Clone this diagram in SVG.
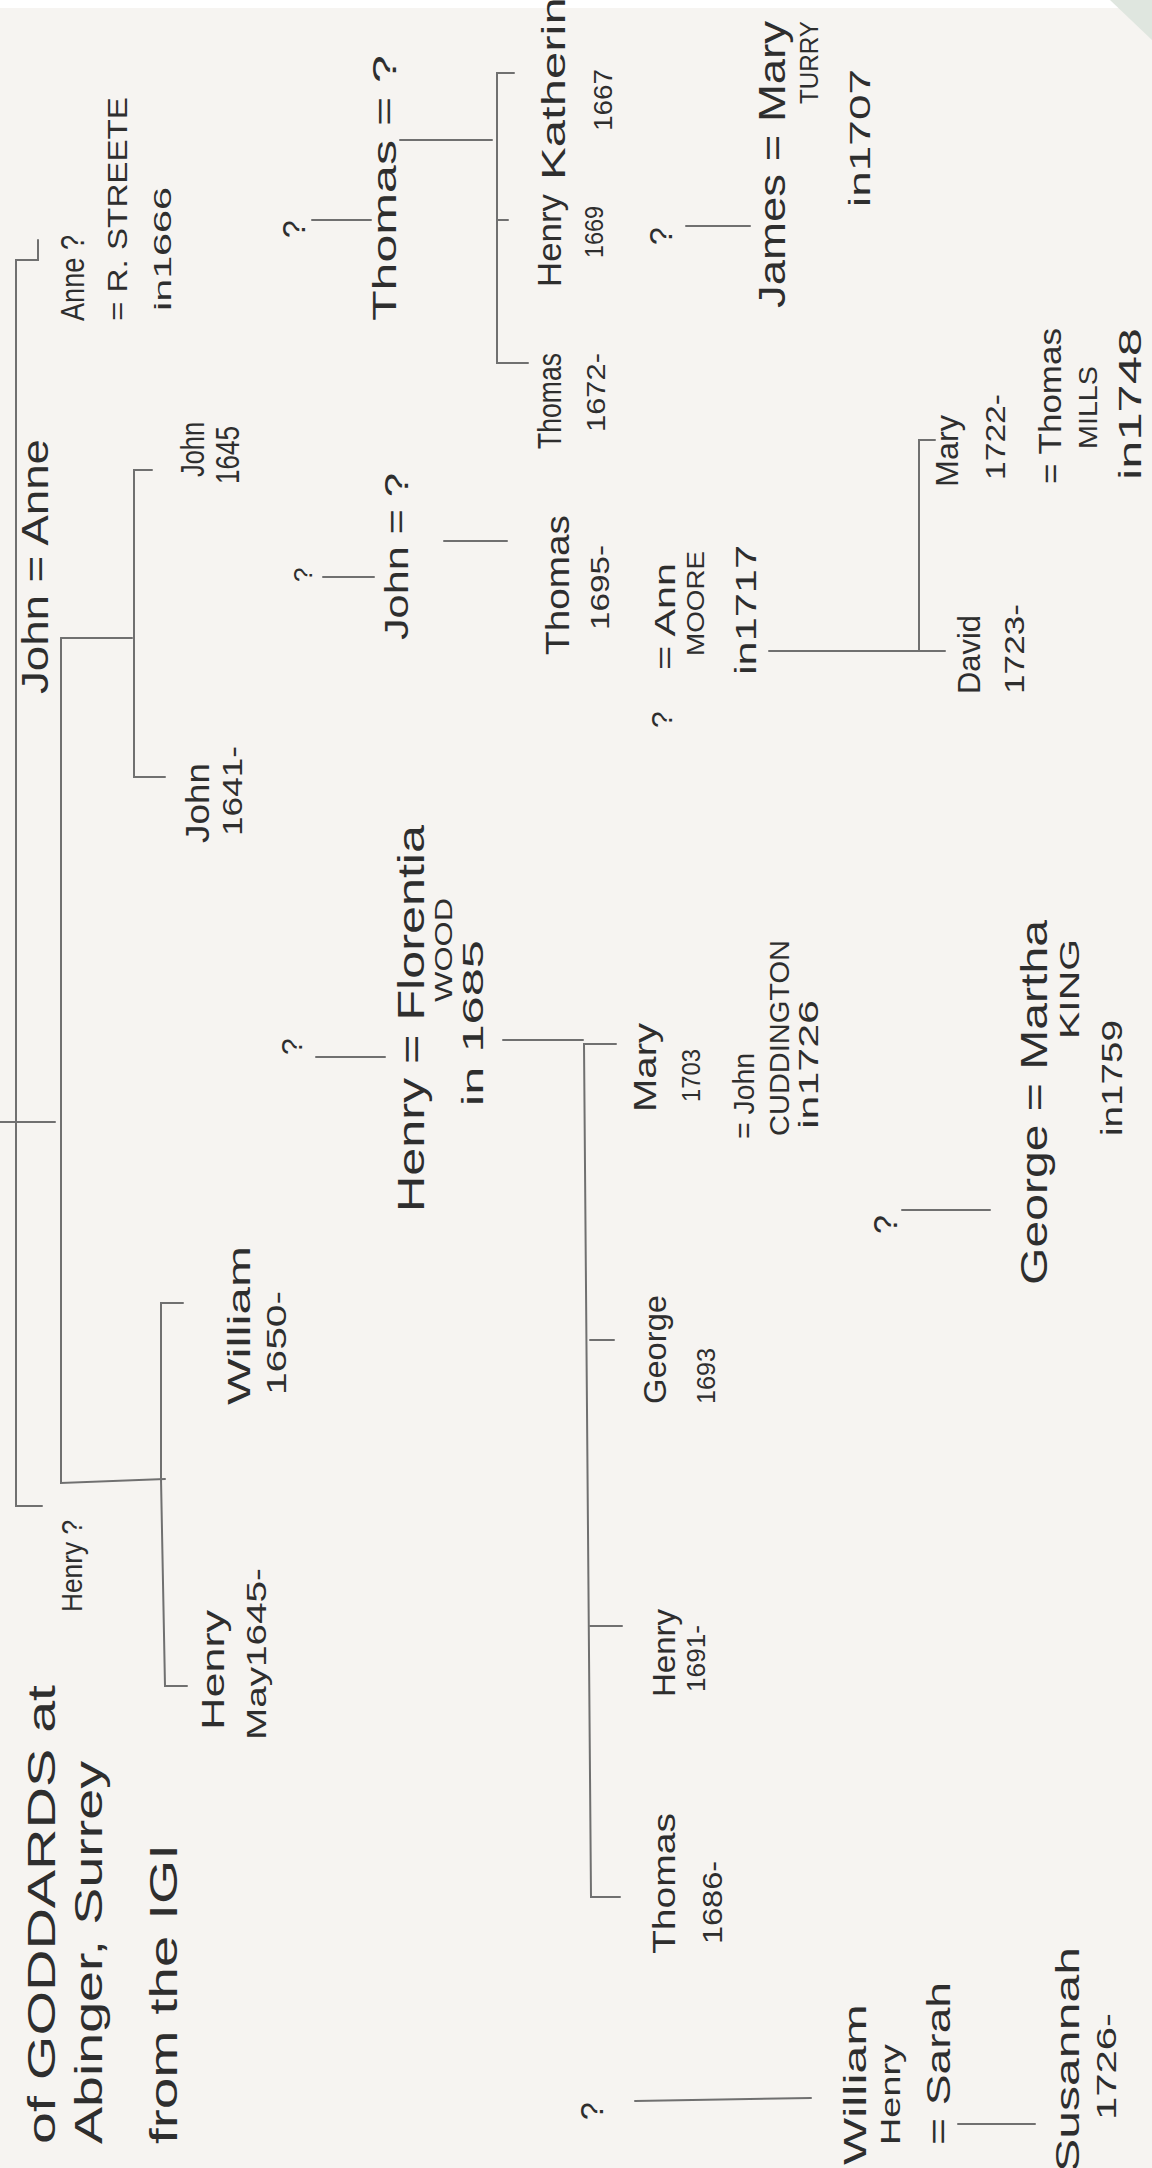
<svg xmlns="http://www.w3.org/2000/svg" width="1152" height="2168" viewBox="0 0 1152 2168">
<style>
.t{font-family:"Liberation Sans",Arial,sans-serif;fill:#2e2e2e;}
.c{stroke:#707070;stroke-width:2;fill:none;stroke-linecap:round;}
</style>
<rect x="0" y="0" width="1152" height="2168" fill="#f6f4f1"/>
<rect x="0" y="0" width="1152" height="8" fill="#ffffff"/>
<polygon points="1110,0 1152,0 1152,40" fill="#dfe6df"/>
<g id="connectors">
<path class="c" d="M38,240 L38,260 L16,260 L16,1506 L42,1506"/>
<path class="c" d="M0,1122 L55,1122"/>
<path class="c" d="M61,638 L132,638"/>
<path class="c" d="M61,638 L61,1483 L165,1479"/>
<path class="c" d="M152,470 L134,470 L134,777 L165,777"/>
<path class="c" d="M183,1303 L161,1303 L161,1479 L165,1686 L187,1686"/>
<path class="c" d="M312,220 L371,220"/>
<path class="c" d="M400,140 L492,140"/>
<path class="c" d="M514,73 L497,73 L497,363 L528,363"/>
<path class="c" d="M497,220 L508,220"/>
<path class="c" d="M686,226 L750,226"/>
<path class="c" d="M323,577 L374,577"/>
<path class="c" d="M444,541 L507,541"/>
<path class="c" d="M769,651 L945,651"/>
<path class="c" d="M935,440 L919,440 L919,651"/>
<path class="c" d="M316,1057 L385,1057"/>
<path class="c" d="M503,1040 L583,1040"/>
<path class="c" d="M616,1044 L584,1044 L591,1897 L620,1897"/>
<path class="c" d="M590,1340 L614,1340"/>
<path class="c" d="M590,1626 L622,1626"/>
<path class="c" d="M902,1210 L990,1210"/>
<path class="c" d="M635,2101 L811,2098"/>
<path class="c" d="M958,2124 L1035,2124"/>
</g>
<g id="title">
<text class="t" transform="translate(55,2144) rotate(-90)" font-size="38" textLength="459" lengthAdjust="spacingAndGlyphs">of GODDARDS at</text>
<text class="t" transform="translate(102,2144) rotate(-90)" font-size="38" textLength="383" lengthAdjust="spacingAndGlyphs">Abinger, Surrey</text>
<text class="t" transform="translate(177,2144) rotate(-90)" font-size="38" textLength="300" lengthAdjust="spacingAndGlyphs">from the IGI</text>
</g>
<g id="n-henry-q"><text class="t" transform="translate(82,1612) rotate(-90)" font-size="30" textLength="92" lengthAdjust="spacingAndGlyphs">Henry ?</text></g>
<g id="n-john-anne"><text class="t" transform="translate(48,694) rotate(-90)" font-size="36" textLength="255" lengthAdjust="spacingAndGlyphs">John = Anne</text></g>
<g id="n-anne"><text class="t" transform="translate(84,321) rotate(-90)" font-size="34" textLength="86" lengthAdjust="spacingAndGlyphs">Anne ?</text>
<text class="t" transform="translate(127,321) rotate(-90)" font-size="28" textLength="224" lengthAdjust="spacingAndGlyphs">= R. STREETE</text>
<text class="t" transform="translate(171,311) rotate(-90)" font-size="24" textLength="124" lengthAdjust="spacingAndGlyphs">in1666</text></g>
<g id="n-john-1645"><text class="t" transform="translate(204,477) rotate(-90)" font-size="34" textLength="55" lengthAdjust="spacingAndGlyphs">John</text>
<text class="t" transform="translate(239,484) rotate(-90)" font-size="34" textLength="58" lengthAdjust="spacingAndGlyphs">1645</text></g>
<g id="n-john-1641"><text class="t" transform="translate(209,843) rotate(-90)" font-size="34" textLength="80" lengthAdjust="spacingAndGlyphs">John</text>
<text class="t" transform="translate(242,836) rotate(-90)" font-size="28" textLength="90" lengthAdjust="spacingAndGlyphs">1641-</text></g>
<g id="n-q1"><text class="t" transform="translate(305,238) rotate(-90)" font-size="32">?</text></g>
<g id="n-thomas-q"><text class="t" transform="translate(396,321) rotate(-90)" font-size="34" textLength="266" lengthAdjust="spacingAndGlyphs">Thomas = ?</text></g>
<g id="n-thomas-1672"><text class="t" transform="translate(561,449) rotate(-90)" font-size="34" textLength="96" lengthAdjust="spacingAndGlyphs">Thomas</text>
<text class="t" transform="translate(605,432) rotate(-90)" font-size="26" textLength="79" lengthAdjust="spacingAndGlyphs">1672-</text></g>
<g id="n-henry-1669"><text class="t" transform="translate(561,287) rotate(-90)" font-size="34" textLength="93" lengthAdjust="spacingAndGlyphs">Henry</text>
<text class="t" transform="translate(603,258) rotate(-90)" font-size="26" textLength="52" lengthAdjust="spacingAndGlyphs">1669</text></g>
<g id="n-katherine"><text class="t" transform="translate(565,180) rotate(-90)" font-size="34" textLength="210" lengthAdjust="spacingAndGlyphs">Katherine</text>
<text class="t" transform="translate(612,131) rotate(-90)" font-size="26" textLength="62" lengthAdjust="spacingAndGlyphs">1667</text></g>
<g id="n-q2"><text class="t" transform="translate(672,245) rotate(-90)" font-size="32">?</text></g>
<g id="n-james"><text class="t" transform="translate(785,308) rotate(-90)" font-size="36" textLength="287" lengthAdjust="spacingAndGlyphs">James = Mary</text>
<text class="t" transform="translate(818,104) rotate(-90)" font-size="26" textLength="83" lengthAdjust="spacingAndGlyphs">TURRY</text>
<text class="t" transform="translate(870,207) rotate(-90)" font-size="30" textLength="138" lengthAdjust="spacingAndGlyphs">in1707</text></g>
<g id="n-mary-1722"><text class="t" transform="translate(958,487) rotate(-90)" font-size="32" textLength="72" lengthAdjust="spacingAndGlyphs">Mary</text>
<text class="t" transform="translate(1005,480) rotate(-90)" font-size="28" textLength="86" lengthAdjust="spacingAndGlyphs">1722-</text>
<text class="t" transform="translate(1061,484) rotate(-90)" font-size="32" textLength="156" lengthAdjust="spacingAndGlyphs">= Thomas</text>
<text class="t" transform="translate(1097,449) rotate(-90)" font-size="26" textLength="83" lengthAdjust="spacingAndGlyphs">MILLS</text>
<text class="t" transform="translate(1141,480) rotate(-90)" font-size="32" textLength="152" lengthAdjust="spacingAndGlyphs">in1748</text></g>
<g id="n-q3"><text class="t" transform="translate(312,582) rotate(-90)" font-size="26">?</text></g>
<g id="n-john-q"><text class="t" transform="translate(408,640) rotate(-90)" font-size="34" textLength="167" lengthAdjust="spacingAndGlyphs">John = ?</text></g>
<g id="n-thomas-1695"><text class="t" transform="translate(569,655) rotate(-90)" font-size="34" textLength="140" lengthAdjust="spacingAndGlyphs">Thomas</text>
<text class="t" transform="translate(609,630) rotate(-90)" font-size="26" textLength="85" lengthAdjust="spacingAndGlyphs">1695-</text></g>
<g id="n-q4"><text class="t" transform="translate(672,728) rotate(-90)" font-size="30">?</text></g>
<g id="n-ann-moore"><text class="t" transform="translate(675,670) rotate(-90)" font-size="30" textLength="107" lengthAdjust="spacingAndGlyphs">= Ann</text>
<text class="t" transform="translate(704,656) rotate(-90)" font-size="24" textLength="105" lengthAdjust="spacingAndGlyphs">MOORE</text>
<text class="t" transform="translate(756,675) rotate(-90)" font-size="30" textLength="130" lengthAdjust="spacingAndGlyphs">in1717</text></g>
<g id="n-david"><text class="t" transform="translate(980,694) rotate(-90)" font-size="32" textLength="79" lengthAdjust="spacingAndGlyphs">David</text>
<text class="t" transform="translate(1024,694) rotate(-90)" font-size="28" textLength="90" lengthAdjust="spacingAndGlyphs">1723-</text></g>
<g id="n-q5"><text class="t" transform="translate(302,1055) rotate(-90)" font-size="30">?</text></g>
<g id="n-henry-florentia"><text class="t" transform="translate(424,1212) rotate(-90)" font-size="36" textLength="387" lengthAdjust="spacingAndGlyphs">Henry = Florentia</text>
<text class="t" transform="translate(452,1002) rotate(-90)" font-size="24" textLength="104" lengthAdjust="spacingAndGlyphs">WOOD</text>
<text class="t" transform="translate(483,1106) rotate(-90)" font-size="30" textLength="166" lengthAdjust="spacingAndGlyphs">in 1685</text></g>
<g id="n-mary-1703"><text class="t" transform="translate(656,1112) rotate(-90)" font-size="32" textLength="89" lengthAdjust="spacingAndGlyphs">Mary</text>
<text class="t" transform="translate(700,1102) rotate(-90)" font-size="26" textLength="53" lengthAdjust="spacingAndGlyphs">1703</text>
<text class="t" transform="translate(754,1139) rotate(-90)" font-size="30" textLength="86" lengthAdjust="spacingAndGlyphs">= John</text>
<text class="t" transform="translate(789,1136) rotate(-90)" font-size="28" textLength="196" lengthAdjust="spacingAndGlyphs">CUDDINGTON</text>
<text class="t" transform="translate(818,1129) rotate(-90)" font-size="28" textLength="129" lengthAdjust="spacingAndGlyphs">in1726</text></g>
<g id="n-george-1693"><text class="t" transform="translate(666,1404) rotate(-90)" font-size="32" textLength="109" lengthAdjust="spacingAndGlyphs">George</text>
<text class="t" transform="translate(715,1404) rotate(-90)" font-size="26" textLength="56" lengthAdjust="spacingAndGlyphs">1693</text></g>
<g id="n-q6"><text class="t" transform="translate(897,1234) rotate(-90)" font-size="34">?</text></g>
<g id="n-george-martha"><text class="t" transform="translate(1047,1285) rotate(-90)" font-size="36" textLength="365" lengthAdjust="spacingAndGlyphs">George = Martha</text>
<text class="t" transform="translate(1079,1039) rotate(-90)" font-size="28" textLength="100" lengthAdjust="spacingAndGlyphs">KING</text>
<text class="t" transform="translate(1122,1136) rotate(-90)" font-size="30" textLength="116" lengthAdjust="spacingAndGlyphs">in1759</text></g>
<g id="n-william-1650"><text class="t" transform="translate(250,1405) rotate(-90)" font-size="32" textLength="159" lengthAdjust="spacingAndGlyphs">William</text>
<text class="t" transform="translate(286,1395) rotate(-90)" font-size="28" textLength="104" lengthAdjust="spacingAndGlyphs">1650-</text></g>
<g id="n-henry-1645"><text class="t" transform="translate(224,1730) rotate(-90)" font-size="32" textLength="120" lengthAdjust="spacingAndGlyphs">Henry</text>
<text class="t" transform="translate(266,1740) rotate(-90)" font-size="28" textLength="172" lengthAdjust="spacingAndGlyphs">May1645-</text></g>
<g id="n-henry-1691"><text class="t" transform="translate(675,1697) rotate(-90)" font-size="32" textLength="88" lengthAdjust="spacingAndGlyphs">Henry</text>
<text class="t" transform="translate(705,1692) rotate(-90)" font-size="26" textLength="67" lengthAdjust="spacingAndGlyphs">1691-</text></g>
<g id="n-thomas-1686"><text class="t" transform="translate(675,1954) rotate(-90)" font-size="32" textLength="141" lengthAdjust="spacingAndGlyphs">Thomas</text>
<text class="t" transform="translate(722,1944) rotate(-90)" font-size="28" textLength="83" lengthAdjust="spacingAndGlyphs">1686-</text></g>
<g id="n-q7"><text class="t" transform="translate(603,2120) rotate(-90)" font-size="32">?</text></g>
<g id="n-william-henry"><text class="t" transform="translate(866,2165) rotate(-90)" font-size="32" textLength="161" lengthAdjust="spacingAndGlyphs">William</text>
<text class="t" transform="translate(900,2145) rotate(-90)" font-size="28" textLength="101" lengthAdjust="spacingAndGlyphs">Henry</text>
<text class="t" transform="translate(950,2145) rotate(-90)" font-size="34" textLength="163" lengthAdjust="spacingAndGlyphs">= Sarah</text></g>
<g id="n-susannah"><text class="t" transform="translate(1079,2172) rotate(-90)" font-size="34" textLength="225" lengthAdjust="spacingAndGlyphs">Susannah</text>
<text class="t" transform="translate(1116,2120) rotate(-90)" font-size="28" textLength="107" lengthAdjust="spacingAndGlyphs">1726-</text></g>
</svg>
